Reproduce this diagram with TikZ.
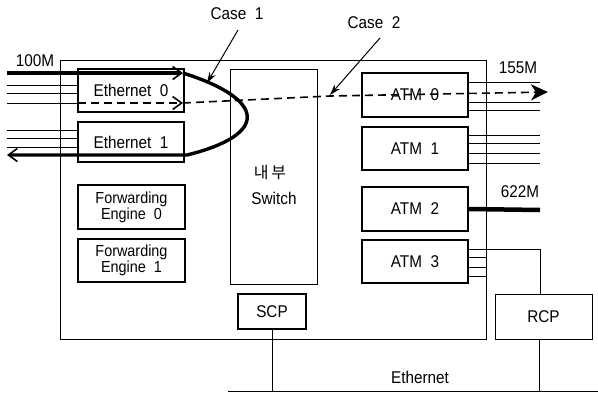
\documentclass[tikz,border=0pt]{standalone}
\usepackage{fontspec}
\setmainfont{Liberation Sans}
\newfontfamily\krfont{Noto Sans CJK KR}
\usetikzlibrary{arrows.meta}
\newcommand\cz[1]{\scalebox{0.9}[1]{#1}}
\begin{document}
\begin{tikzpicture}[x=1pt,y=-1pt,
  box/.style={draw, line width=1.6pt, inner sep=0pt, align=center, font=\fontsize{17}{19}\selectfont},
  fbox/.style={box, font=\fontsize{16}{16}\selectfont},
  thinbox/.style={draw, line width=0.8pt, inner sep=0pt, align=center, font=\fontsize{17}{19}\selectfont},
  wire/.style={line width=0.8pt},
  fat/.style={line width=3.4pt},
  dashwire/.style={line width=1.6pt, dash pattern=on 8pt off 5pt},
  lbl/.style={inner sep=0pt, font=\fontsize{17}{19}\selectfont},
  barb/.style={-{Straight Barb[length=9pt,width=13pt,line width=1.6pt]}},
  tip/.style={-{Stealth[length=11pt,width=7pt]}},
  bigtip/.style={-{Stealth[length=17pt,width=16pt,inset=5pt]}}]
\useasboundingbox (0,0) rectangle (598,397);

% outer router box
\node[draw, line width=0.8pt, minimum width=426pt, minimum height=279pt, inner sep=0pt] (router) at (273,199.5) {};

% internal boxes
\node[box, minimum width=106pt, minimum height=43pt] (eth0) at (131,90.5) {\cz{Ethernet\ \ 0}};
\node[box, minimum width=106pt, minimum height=40pt] (eth1) at (131,142) {\cz{Ethernet\ \ 1}};
\node[fbox, minimum width=107pt, minimum height=44pt] (fe0) at (131.5,207) {\cz{Forwarding}\\\cz{Engine\ \ 0}};
\node[fbox, minimum width=107pt, minimum height=43pt] (fe1) at (131.5,260.5) {\cz{Forwarding}\\\cz{Engine\ \ 1}};
\node[thinbox, minimum width=87pt, minimum height=215pt] (sw) at (273.5,176.5) {};
\node[lbl] (swkr) at (270,173) {\krfont\fontsize{16}{18}\selectfont 내\,부};
\node[lbl] (swtxt) at (274,198) {\cz{Switch}};
\node[box, minimum width=106pt, minimum height=44pt] (atm0) at (415,95) {\cz{ATM\ \ 0}};
\node[box, minimum width=106pt, minimum height=43pt] (atm1) at (415,148.5) {\cz{ATM\ \ 1}};
\node[box, minimum width=106pt, minimum height=44pt] (atm2) at (415,209) {\cz{ATM\ \ 2}};
\node[box, minimum width=106pt, minimum height=43pt] (atm3) at (415,261.5) {\cz{ATM\ \ 3}};
\node[box, minimum width=68pt, minimum height=35pt] (scp) at (272,311.5) {\cz{SCP}};
\node[thinbox, minimum width=97pt, minimum height=45pt] (rcp) at (543.5,316.5) {\cz{RCP}};

% labels
\node[lbl] (l100) at (35,61) {\cz{100M}};
\node[lbl] (l155) at (518,68) {\cz{155M}};
\node[lbl] (l622) at (520,192) {\cz{622M}};
\node[lbl] (lether) at (420,377) {\cz{Ethernet}};
\node[lbl] (case1) at (237,14) {\cz{Case\ \ 1}};
\node[lbl] (case2) at (374,23) {\cz{Case\ \ 2}};

% coordinates
\coordinate (inL) at (7,73);
\coordinate (inR) at (183,73);
\coordinate (outR) at (187,155);
\coordinate (outL) at (7,155);
\coordinate (dA) at (78,103);
\coordinate (dB) at (183,103);
\coordinate (dC) at (330,96);
\coordinate (dD) at (548,92);
\coordinate (c1s) at (238,30);
\coordinate (c1e) at (207,83);
\coordinate (c2s) at (380,38);
\coordinate (c2e) at (330,95);
\coordinate (bus0) at (228,391);
\coordinate (bus1) at (598,391);
\coordinate (rcpK) at (540,249);

% Ethernet 0 input lines
\foreach \yy in {85,93,103} \draw[wire] (7,\yy) -- (eth0.west |- 0,\yy);
% Ethernet 1 lines
\foreach \yy in {130,138,147} \draw[wire] (7,\yy) -- (eth1.west |- 0,\yy);

% ATM 0 / ATM 1 output lines
\foreach \yy in {82,102,110} \draw[wire] (atm0.east |- 0,\yy) -- (540,\yy);
\foreach \yy in {135,143,153,163} \draw[wire] (atm1.east |- 0,\yy) -- (540,\yy);
% ATM 2 thick
\draw[line width=4.5pt] (atm2.east) -- (540,210);
% ATM 3
\foreach \yy in {257,267,276} \draw[wire] (atm3.east |- 0,\yy) -- (router.east |- 0,\yy);
\draw[wire] (atm3.east |- rcpK) -- (rcpK) -- (rcp.north -| rcpK);

% Ethernet bus
\draw[wire] (bus0) -- (bus1);
\draw[wire] (scp.south) -- (scp.south |- bus0);
\draw[wire] (rcp.south -| 539,0) -- (539,391);

% Case 1 path
\draw[fat, barb] (inL) -- (inR);
\draw[fat, barb] (inR) .. controls (268,100) and (268,135) .. (outR) -- (outL);

% Case 2 path
\draw[dashwire, barb] (dA) -- (dB);
\draw[dashwire, bigtip] (dB) -- (dC) -- (dD);

% pointers
\draw[line width=1pt, tip] (c1s) -- (c1e);
\draw[line width=1pt, tip] (c2s) -- (c2e);
\end{tikzpicture}
\end{document}
